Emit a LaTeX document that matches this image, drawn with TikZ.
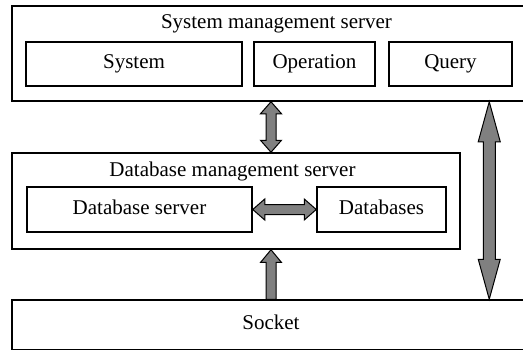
\documentclass[tikz,border=0pt]{standalone}
\usepackage{fontspec}
\setmainfont{Liberation Serif}
\usetikzlibrary{calc}
\tikzset{
	box/.style = {
		rectangle,
		draw=black,
		line width=1.5pt,
		inner sep=0pt,
		text height=14pt,
		text depth=4.5pt,
		font=\fontsize{21}{25}\selectfont
	},
	box_outer/.style = {
		box,
		minimum width=518pt
	},
	box_inner/.style = {
		box,
		minimum height=44pt
	},
	box_title/.style = {
		inner sep=0pt,
		anchor=base,
		font=\fontsize{21}{25}\selectfont
	},
	arrow_fat/.style = {
		draw=black,
		fill=gray,
		line width=1pt,
		line join=miter
	},
	arrow_both/.style n args = {3}{
		arrow_fat,
		to path={
			-- ($(\tikztostart)!#1!(\tikztotarget)!#2!90:(\tikztotarget)$)
			-- ($(\tikztostart)!#1!(\tikztotarget)!#3!90:(\tikztotarget)$)
			-- ($(\tikztotarget)!#1!(\tikztostart)!#3!-90:(\tikztostart)$)
			-- ($(\tikztotarget)!#1!(\tikztostart)!#2!-90:(\tikztostart)$)
			-- (\tikztotarget)
			-- ($(\tikztotarget)!#1!(\tikztostart)!#2!90:(\tikztostart)$)
			-- ($(\tikztotarget)!#1!(\tikztostart)!#3!90:(\tikztostart)$)
			-- ($(\tikztostart)!#1!(\tikztotarget)!#3!-90:(\tikztotarget)$)
			-- ($(\tikztostart)!#1!(\tikztotarget)!#2!-90:(\tikztotarget)$)
			-- cycle
		}
	},
	arrow_one/.style n args = {3}{
		arrow_fat,
		to path={
			($(\tikztostart)!#3!90:(\tikztotarget)$)
			-- ($(\tikztotarget)!#1!(\tikztostart)!#3!-90:(\tikztostart)$)
			-- ($(\tikztotarget)!#1!(\tikztostart)!#2!-90:(\tikztostart)$)
			-- (\tikztotarget)
			-- ($(\tikztotarget)!#1!(\tikztostart)!#2!90:(\tikztostart)$)
			-- ($(\tikztotarget)!#1!(\tikztostart)!#3!90:(\tikztostart)$)
			-- ($(\tikztostart)!#3!-90:(\tikztotarget)$)
			-- cycle
		}
	},
}

\begin{document}
\begin{tikzpicture}[x=1pt, y=-1pt]
\useasboundingbox (0,0) rectangle (523,351);
\clip (0,0) rectangle (523,351);
% system management server
\node [box_outer, minimum height=95pt] (sms) at (271,53.5) {};
\node [box_title] (sms_title) at (276.5,28.3) {System management server};
\node [box_inner, minimum width=216pt] (system) at (134,64) {System};
\node [box_inner, minimum width=121pt] (operation) at (314.5,64) {Operation};
\node [box_inner, minimum width=123pt] (query) at (450.5,64) {Query};
% database management server
\node [box, minimum width=448pt, minimum height=96pt] (dbms) at (236,201) {};
\node [box_title] (dbms_title) at (232.5,176.7) {Database management server};
\node [box_inner, minimum width=225pt, minimum height=45pt] (db_server) at (139.5,209.5) {Database server};
\node [box_inner, minimum width=129pt, minimum height=45pt] (databases) at (381.5,209.5) {Databases};
% socket
\node [box_outer, minimum height=49.5pt] (socket) at (271,324.75) {Socket};
% links
\path (sms.south east) ++(-41.5,0) coordinate (link_top);
\draw [arrow_both={12pt}{10.5pt}{5pt}] (sms.south) to (sms.south |- dbms.north);
\draw [arrow_both={12pt}{10.5pt}{5pt}] (db_server.east) to (databases.west);
\draw [arrow_one={12.7pt}{10.5pt}{5pt}] (socket.north) to (socket.north |- dbms.south);
\draw [arrow_both={40pt}{11pt}{6pt}] (link_top) to (link_top |- socket.north);
\end{tikzpicture}
\end{document}
